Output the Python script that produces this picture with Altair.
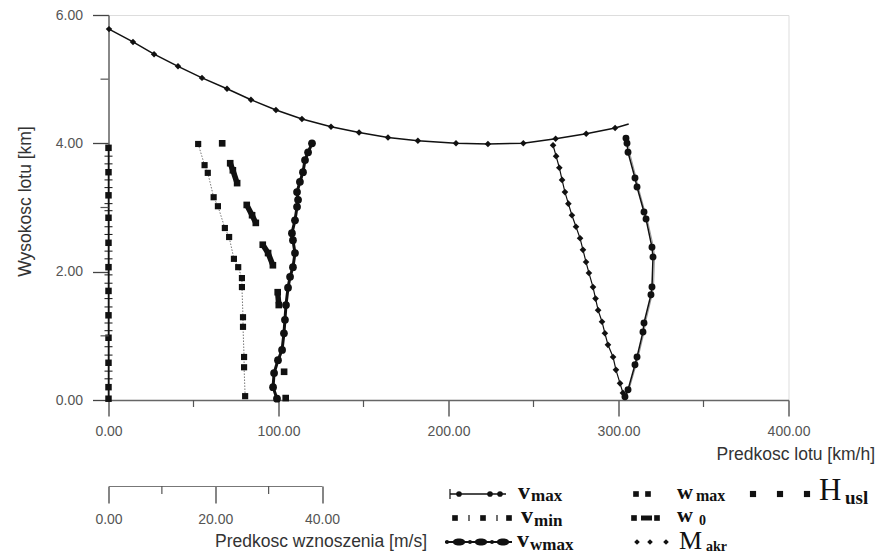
import altair as alt
import pandas as pd

# ---------------- data ----------------
# upper boundary curve (speed km/h, height km)
top_v = [0.3, 14.4, 26.8, 40.9, 55.0, 69.7, 83.8, 98.5, 113.8, 130.9, 147.4, 164.4,
         182.0, 204.4, 223.2, 244.0, 263.0, 281.0, 298.0, 306.0]
top_h = [5.78, 5.58, 5.39, 5.20, 5.02, 4.85, 4.68, 4.52, 4.38, 4.26, 4.17, 4.09,
         4.04, 4.00, 3.99, 4.00, 4.07, 4.15, 4.24, 4.30]

# v_max (right branch)
vmax_v = [304.4, 305.0, 305.6, 309.7, 310.9, 315.0, 316.2, 319.7, 320.3, 319.7, 319.1,
          315.0, 314.4, 310.9, 309.7, 305.6, 303.8]
vmax_h = [4.08, 4.00, 3.86, 3.46, 3.32, 2.93, 2.82, 2.38, 2.23, 1.76, 1.64,
          1.20, 1.06, 0.67, 0.55, 0.16, 0.05]
vmax2_v = [305.2, 305.8, 306.5, 310.4, 311.6, 315.6, 316.9, 320.6, 321.2, 320.6, 319.8,
           315.8, 315.1, 311.6, 310.4, 306.2, 304.4]

# M_akr (left branch of the V)
mk_v = [261.5, 263.3, 265.2, 266.8, 268.5, 270.5, 272.6, 275.0, 277.4, 279.1, 280.9,
        282.6, 285.0, 286.5, 288.0, 290.3, 292.0, 293.8, 296.8, 298.5, 300.9, 302.6]
mk_h = [3.97, 3.80, 3.62, 3.43, 3.24, 3.06, 2.88, 2.70, 2.52, 2.34, 2.15,
        1.98, 1.76, 1.58, 1.40, 1.22, 1.04, 0.86, 0.67, 0.47, 0.26, 0.11]

# v_wmax
vw_v = [99.1, 96.8, 97.4, 99.7, 102.1, 103.2, 103.8, 104.4, 105.6, 106.8, 108.5, 109.7,
        108.5, 107.9, 109.7, 110.9, 111.5, 110.9, 112.6, 114.4, 115.6, 117.4, 119.7]
vw_h = [0.02, 0.20, 0.42, 0.62, 0.78, 1.04, 1.25, 1.48, 1.75, 1.92, 2.07, 2.29,
        2.49, 2.60, 2.80, 3.01, 3.12, 3.24, 3.40, 3.55, 3.74, 3.86, 4.00]

# w_max (climb rate m/s)
wm_w = [16.8, 18.0, 18.6, 19.7, 20.5, 21.8, 22.6, 23.5, 24.3, 25.0, 25.0, 25.2, 25.2,
        25.4, 25.4, 25.6]
wm_h = [3.99, 3.66, 3.54, 3.16, 3.02, 2.68, 2.54, 2.20, 2.07, 1.90, 1.76, 1.29, 1.14,
        0.67, 0.51, 0.06]

# w_0 (climb rate m/s), grouped into dashes
w0_w = [21.3, 22.8, 23.3, 24.1, 25.9, 26.9, 27.6, 28.9, 29.9, 30.8, 31.7, 31.9, 32.9, 33.2]
w0_h = [4.00, 3.69, 3.58, 3.38, 3.04, 2.88, 2.76, 2.42, 2.29, 2.10, 1.68, 1.48, 0.44, 0.03]
w0_g = [0, 1, 1, 1, 2, 2, 2, 3, 3, 3, 4, 4, 5, 6]

# H_usl (vertical line at zero speed)
hu_h = [3.93, 3.55, 3.19, 2.84, 2.45, 2.07, 1.70, 1.32, 0.97, 0.58, 0.20, 0.02]
hu_tick_h = [3.80, 3.68, 3.43, 3.31, 3.06, 2.95, 2.70, 2.58, 2.32, 2.20, 1.95, 1.82,
             1.58, 1.45, 1.20, 1.08, 0.83, 0.70, 0.45, 0.33]

v_ticks = [0, 100, 200, 300, 400]
v_minor = [50, 150, 250, 350]
h_ticks = [0, 2, 4, 6]
h_minor = [1, 3, 5]
w_ticks = [0, 20, 40]
w_minor = [10, 30]

# ---------------- helpers ----------------
SANS = "Liberation Sans"
SERIF = "Liberation Serif"
INK = "#111111"
W, H = 680, 385
OX, OY = 108.5, 15.0
LBL = 14
TTL = 17.5


def df(x, y, **extra):
    d = pd.DataFrame({"x": x, "y": y})
    d["i"] = range(len(d))
    for k, v in extra.items():
        d[k] = v
    return d


x_axis = alt.Axis(values=v_ticks, format=".2f", tickSize=16, tickWidth=1.3, tickColor="#444",
                  domainColor="#666", domainWidth=1.5, labelFlush=False, labelPadding=8,
                  labelFont=SANS, labelFontSize=LBL, labelColor="#555", grid=False,
                  title="Predkosc lotu [km/h]", titleFont=SANS, titleFontSize=TTL,
                  titleFontWeight="normal", titleColor="#333", titleX=766, titleY=54,
                  titleAlign="right", titleBaseline="middle")
y_axis = alt.Axis(values=h_ticks, format=".2f", tickSize=16, tickWidth=1.3, tickColor="#444",
                  domainColor="#666", domainWidth=1.5, labelFlush=False, labelPadding=10,
                  labelFont=SANS, labelFontSize=LBL, labelColor="#555", grid=False,
                  title="Wysokosc lotu [km]", titleFont=SANS, titleFontSize=TTL,
                  titleFontWeight="normal", titleColor="#333", titleX=-83, titleY=186,
                  titleAlign="center", titleBaseline="middle", titleAngle=-90)
w_axis = alt.Axis(values=w_ticks, format=".2f", tickSize=17, tickWidth=1.3, tickColor="#444",
                  domainColor="#777", domainWidth=1.2, labelFlush=False, labelPadding=9,
                  labelFont=SANS, labelFontSize=LBL, labelColor="#555", grid=False,
                  orient="bottom", offset=86,
                  title="Predkosc wznoszenia [m/s]", titleFont=SANS, titleFontSize=TTL,
                  titleFontWeight="normal", titleColor="#333", titleX=318, titleY=55,
                  titleAlign="right", titleBaseline="middle")


def XK(f="x"):
    return alt.X(f"{f}:Q", scale=alt.Scale(domain=[0, 400], nice=False, zero=False), axis=x_axis)


def YK(f="y"):
    return alt.Y(f"{f}:Q", scale=alt.Scale(domain=[0, 6], nice=False, zero=False), axis=y_axis)


def XM(f="x"):
    return alt.X(f"{f}:Q", scale=alt.Scale(domain=[0, 40], range=[0, 213.5], nice=False, zero=False),
                 axis=w_axis)


ORD = alt.Order("i:Q")

# ---------------- km/h layers ----------------
d_top = df(top_v, top_h)
d_vmax = df(vmax_v, vmax_h)
d_vmax2 = df(vmax2_v, vmax_h)
d_mk = df(mk_v, mk_h)
d_vw = df(vw_v, vw_h)
d_hu = df([0] * len(hu_h), hu_h)
d_hut = df([0] * len(hu_tick_h), hu_tick_h)

base_top = alt.Chart(d_top)
km_layers = [
    base_top.mark_line(color=INK, strokeWidth=1.5).encode(x=XK(), y=YK(), order=ORD),
    base_top.transform_filter("datum.i < 19").mark_point(filled=True, shape="diamond", size=42,
                                                          color=INK, opacity=1).encode(x=XK(), y=YK()),
    alt.Chart(d_vmax2).mark_line(color="#999", strokeWidth=1).encode(x=XK(), y=YK(), order=ORD),
    alt.Chart(d_vmax).mark_line(color=INK, strokeWidth=1.5).encode(x=XK(), y=YK(), order=ORD),
    alt.Chart(d_vmax).mark_point(filled=True, shape="circle", size=48, color=INK,
                                 opacity=1).encode(x=XK(), y=YK()),
    alt.Chart(d_mk).mark_line(color=INK, strokeWidth=1.2).encode(x=XK(), y=YK(), order=ORD),
    alt.Chart(d_mk).mark_point(filled=True, shape="diamond", size=44, color=INK,
                               opacity=1).encode(x=XK(), y=YK()),
    alt.Chart(d_vw).mark_line(color=INK, strokeWidth=3).encode(x=XK(), y=YK(), order=ORD),
    alt.Chart(d_vw).mark_point(filled=True, shape="circle", size=60, color=INK,
                               opacity=1).encode(x=XK(), y=YK()),
    alt.Chart(d_hu).mark_line(color=INK, strokeWidth=1.5).encode(x=XK(), y=YK(), order=ORD),
    alt.Chart(d_hu).mark_point(filled=True, shape="square", size=42, color=INK,
                               opacity=1).encode(x=XK(), y=YK()),
    alt.Chart(d_hut).mark_point(filled=False, shape="M-1,0L1,0", size=64, color=INK,
                                strokeWidth=1, opacity=1).encode(x=XK(), y=YK()),
    # minor ticks
    alt.Chart(pd.DataFrame({"x": v_minor})).mark_rule(color="#555", strokeWidth=1.2).encode(
        x=XK(), y=alt.value(H), y2=alt.value(H + 7)),
    alt.Chart(pd.DataFrame({"y": h_minor})).mark_rule(color="#555", strokeWidth=1.2).encode(
        y=YK(), x=alt.value(-8), x2=alt.value(0)),
]

# ---------------- m/s layers ----------------
d_wm = df(wm_w, wm_h)
d_w0 = df(w0_w, w0_h, g=w0_g)
ms_layers = [
    alt.Chart(d_wm).mark_line(color="#777", strokeWidth=1, strokeDash=[1.5, 1.5]).encode(
        x=XM(), y=YK(), order=ORD),
    alt.Chart(d_wm).mark_point(filled=True, shape="square", size=38, color=INK,
                               opacity=1).encode(x=XM(), y=YK()),
    alt.Chart(d_w0).mark_line(color=INK, strokeWidth=5.5).encode(
        x=XM(), y=YK(), order=ORD, detail="g:N"),
    alt.Chart(d_w0).mark_point(filled=True, shape="square", size=44, color=INK,
                               opacity=1).encode(x=XM(), y=YK()),
    alt.Chart(pd.DataFrame({"x": w_minor})).mark_rule(color="#555", strokeWidth=1.2).encode(
        x=XM(), y=alt.value(H + 86), y2=alt.value(H + 86 + 8)),
]

# ---------------- legend (pixel layout) ----------------
R1, R2, R3 = 494, 518, 542
ELL = "M-1,0A1,0.55,0,1,0,1,0A1,0.55,0,1,0,-1,0Z"
rules = pd.DataFrame([
    # x1, x2, y1, y2, width
    (450, 506, R1, R1, 1.3),
    (450, 450, R1 - 5, R1 + 5, 1.2),
    (469, 469, R2 - 3, R2 + 3, 1.2),
    (497, 497, R2 - 3, R2 + 3, 1.2),
    (445, 512, R3, R3, 2.0),
    (641, 652, R2, R2, 5.0),
], columns=["x1", "x2", "y1", "y2", "sw"])
pts = pd.DataFrame([
    (459, R1, "circle", 32), (490, R1, "circle", 32), (500, R1, "circle", 32),
    (455, R2, "square", 32), (483, R2, "square", 32), (509, R2, "square", 32),
    (447, R3, "circle", 16), (470, R3, "circle", 16), (492, R3, "circle", 16),
    (459, R3, ELL, 160), (481, R3, ELL, 160), (503, R3, ELL, 160),
    (636, R1, "square", 32), (648, R1, "square", 32),
    (634, R2, "square", 32), (657, R2, "square", 32),
    (637, R3, "diamond", 32), (650, R3, "diamond", 32), (666, R3, "diamond", 32),
    (753, R1, "square", 38), (780, R1, "square", 38), (807, R1, "square", 38),
], columns=["px", "py", "shape", "size"])
txt_bold = pd.DataFrame([
    (518, R1 - 2, "v", 24), (531, R1 + 2, "max", 17),
    (521, R2 - 2, "v", 24), (534, R2 + 3, "min", 17),
    (517, R3 - 2, "v", 24), (530, R3 + 3, "wmax", 17),
    (677, R1 - 2, "w", 22), (696, R1 + 2, "max", 16),
    (677, R2 - 3, "w", 22), (699, R2 + 3, "0", 14),
    (706, R3 + 5, "akr", 14),
    (845, R1 + 4, "usl", 19),
], columns=["px", "py", "t", "fs"])
txt_reg = pd.DataFrame([
    (679, R3 - 1, "M", 26),
    (819, R1 - 3, "H", 31),
], columns=["px", "py", "t", "fs"])
rules["x1"] -= OX
rules["x2"] -= OX
rules["y1"] -= OY
rules["y2"] -= OY
for d in (pts, txt_bold, txt_reg):
    d["px"] -= OX
    d["py"] -= OY

PX = alt.X("px:Q", scale=None)
PY = alt.Y("py:Q", scale=None)
legend_layers = [
    alt.Chart(rules).mark_rule(color=INK).encode(
        x=alt.X("x1:Q", scale=None), x2="x2:Q", y=alt.Y("y1:Q", scale=None), y2="y2:Q",
        strokeWidth=alt.StrokeWidth("sw:Q", scale=None)),
    alt.Chart(pts).mark_point(filled=True, color=INK, opacity=1).encode(
        x=PX, y=PY, shape=alt.Shape("shape:N", scale=None), size=alt.Size("size:Q", scale=None)),
    alt.Chart(txt_bold).mark_text(font=SERIF, fontWeight="bold", align="left", baseline="middle",
                                  color=INK).encode(
        x=PX, y=PY, text="t:N", size=alt.Size("fs:Q", scale=None)),
    alt.Chart(txt_reg).mark_text(font=SERIF, fontWeight="normal", align="left", baseline="middle",
                                 color=INK).encode(
        x=PX, y=PY, text="t:N", size=alt.Size("fs:Q", scale=None)),
]

chart = alt.layer(
    alt.layer(*km_layers),
    alt.layer(*ms_layers),
    *legend_layers,
).resolve_scale(x="independent").properties(
    width=W, height=H,
    autosize=alt.AutoSizeParams(type="none"),
    padding={"left": OX - 8, "top": OY - 8, "right": 90, "bottom": 156},
).configure_view(stroke=None).configure(background="white")

chart.save("out.html", embed_options={"renderer": "svg", "actions": False})
